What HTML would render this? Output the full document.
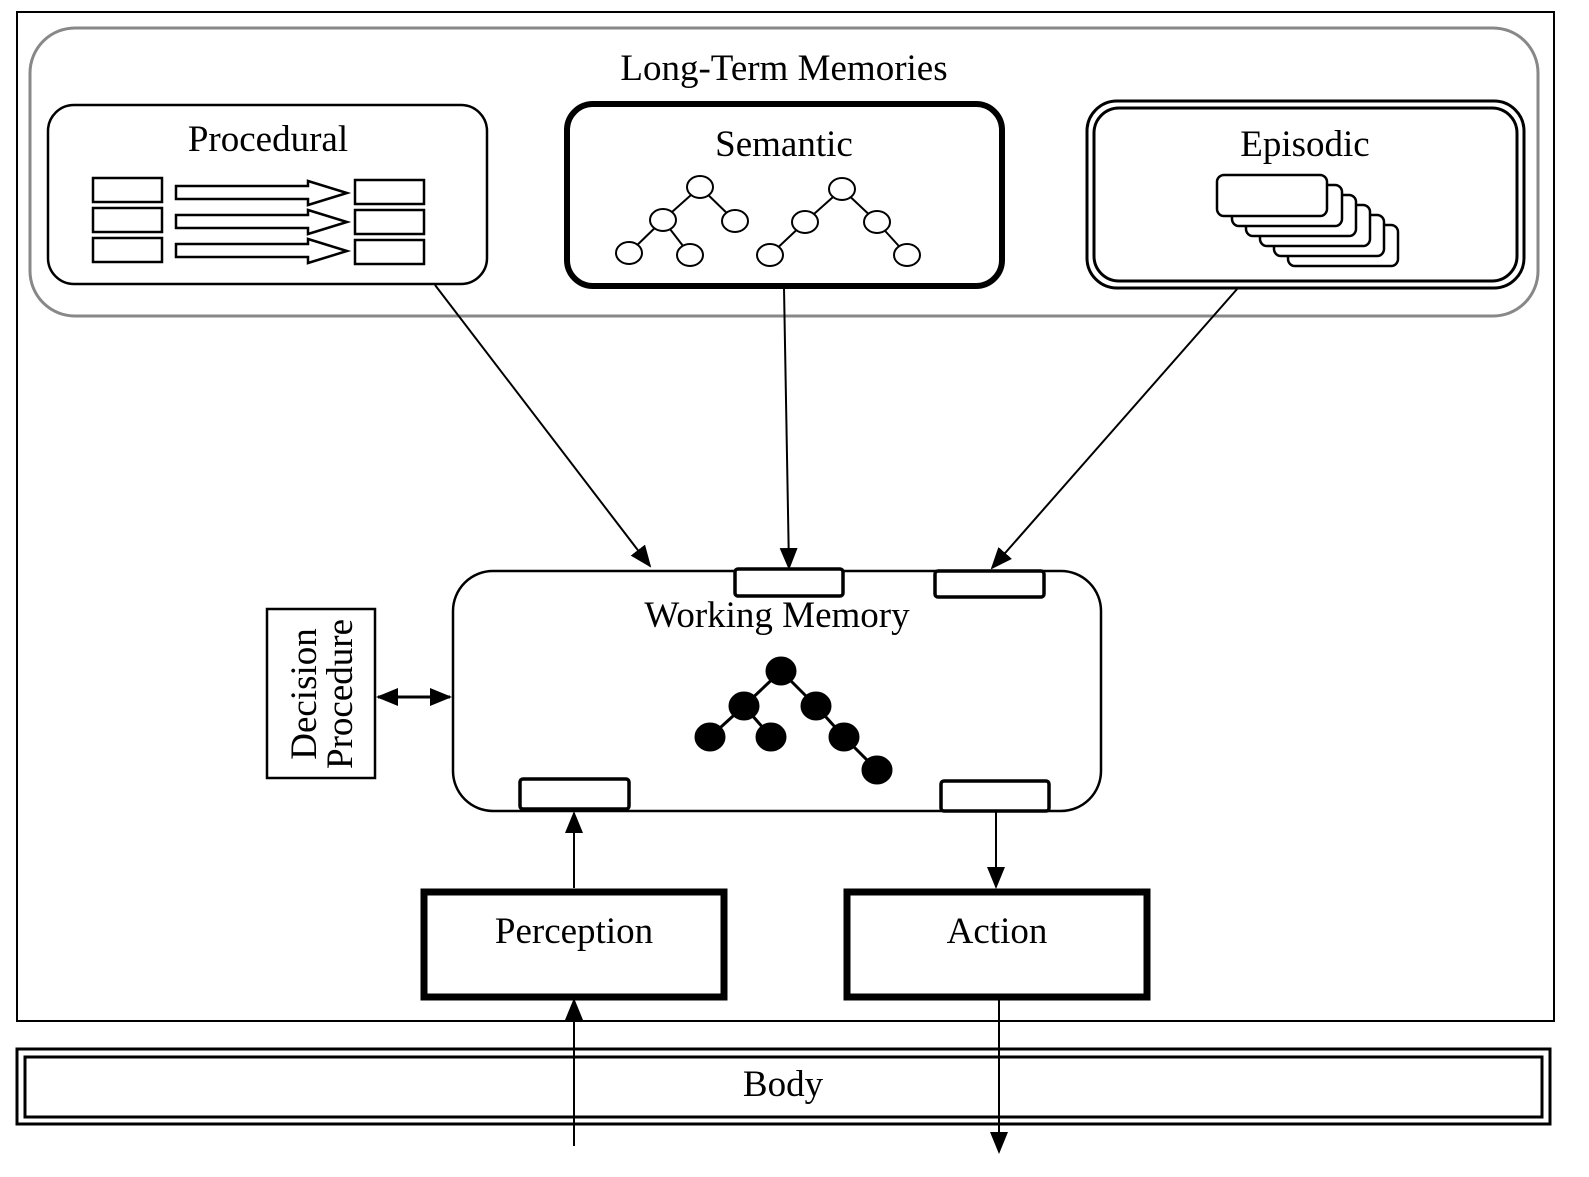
<!DOCTYPE html>
<html><head><style>html,body{margin:0;padding:0;background:#fff}svg{display:block}</style></head>
<body>
<svg width="1589" height="1177" viewBox="0 0 1589 1177" xmlns="http://www.w3.org/2000/svg" font-family="Liberation Serif, serif">
<defs>
<marker id="ab" markerWidth="22" markerHeight="22" refX="20" refY="11" orient="auto-start-reverse" markerUnits="userSpaceOnUse" viewBox="0 0 22 22">
<path d="M0,2 L22,11 L0,20 z" fill="#000"/></marker>
</defs>
<rect x="17" y="12" width="1537" height="1009" fill="none" stroke="#000" stroke-width="2"/>
<rect x="30" y="28" width="1508" height="288" rx="45" fill="none" stroke="#888" stroke-width="3"/>
<text x="784" y="80" font-size="37" text-anchor="middle">Long-Term Memories</text>

<!-- Procedural -->
<rect x="48" y="105" width="439" height="179" rx="26" fill="none" stroke="#000" stroke-width="2.5"/>
<text x="268" y="151" font-size="37" text-anchor="middle">Procedural</text>
<g fill="#fff" stroke="#000" stroke-width="2.5">
<rect x="93" y="178" width="69" height="24"/><rect x="93" y="208" width="69" height="24"/><rect x="93" y="238" width="69" height="24"/>
<rect x="355" y="180" width="69" height="24"/><rect x="355" y="210" width="69" height="24"/><rect x="355" y="240" width="69" height="24"/>
<path d="M176,186 H308 V181 L347,193 L308,205 V199 H176 Z"/>
<path d="M176,215 H308 V210 L347,222 L308,234 V228 H176 Z"/>
<path d="M176,244 H308 V239 L347,251 L308,263 V257 H176 Z"/>
</g>

<!-- Semantic -->
<rect x="567" y="104" width="435" height="182" rx="26" fill="none" stroke="#000" stroke-width="6"/>
<text x="784" y="156" font-size="37" text-anchor="middle">Semantic</text>
<g stroke="#000" stroke-width="2" fill="#fff">
<line x1="700" y1="187" x2="663" y2="220"/><line x1="700" y1="187" x2="735" y2="221"/><line x1="663" y1="220" x2="629" y2="253"/><line x1="663" y1="220" x2="690" y2="255"/>
<line x1="842" y1="189" x2="805" y2="222"/><line x1="842" y1="189" x2="877" y2="222"/><line x1="805" y1="222" x2="770" y2="255"/><line x1="877" y1="222" x2="907" y2="255"/>
<ellipse cx="700" cy="187" rx="13" ry="11"/><ellipse cx="663" cy="220" rx="13" ry="11"/><ellipse cx="735" cy="221" rx="13" ry="11"/><ellipse cx="629" cy="253" rx="13" ry="11"/><ellipse cx="690" cy="255" rx="13" ry="11"/>
<ellipse cx="842" cy="189" rx="13" ry="11"/><ellipse cx="805" cy="222" rx="13" ry="11"/><ellipse cx="877" cy="222" rx="13" ry="11"/><ellipse cx="770" cy="255" rx="13" ry="11"/><ellipse cx="907" cy="255" rx="13" ry="11"/>
</g>

<!-- Episodic -->
<rect x="1087" y="101" width="437" height="187" rx="30" fill="none" stroke="#000" stroke-width="3"/>
<rect x="1094" y="108" width="423" height="173" rx="25" fill="none" stroke="#000" stroke-width="3"/>
<text x="1305" y="156" font-size="37" text-anchor="middle">Episodic</text>
<g fill="#fff" stroke="#000" stroke-width="2.5">
<rect x="1288" y="225" width="110" height="41" rx="7"/>
<rect x="1274" y="215" width="110" height="41" rx="7"/>
<rect x="1260" y="205" width="110" height="41" rx="7"/>
<rect x="1246" y="195" width="110" height="41" rx="7"/>
<rect x="1232" y="185" width="110" height="41" rx="7"/>
<rect x="1217" y="175" width="110" height="41" rx="7"/>
</g>

<!-- arrows -->
<g stroke="#000" stroke-width="2" fill="none">
<line x1="435" y1="285" x2="650" y2="566" marker-end="url(#ab)"/>
<line x1="784" y1="288" x2="789" y2="568" marker-end="url(#ab)"/>
<line x1="1238" y1="288" x2="992" y2="568" marker-end="url(#ab)"/>
<line x1="574" y1="888" x2="574" y2="813" marker-end="url(#ab)"/>
<line x1="996" y1="812" x2="996" y2="887" marker-end="url(#ab)"/>
<line x1="574" y1="1146" x2="574" y2="1000" marker-end="url(#ab)"/>
<line x1="999" y1="1000" x2="999" y2="1152" marker-end="url(#ab)"/>
<line x1="378" y1="697" x2="450" y2="697" marker-start="url(#ab)" marker-end="url(#ab)" stroke-width="3"/>
</g>

<!-- Working memory -->
<rect x="453" y="571" width="648" height="240" rx="40" fill="none" stroke="#000" stroke-width="2.5"/>
<g fill="#fff" stroke="#000" stroke-width="3.5">
<rect x="735" y="569" width="108" height="27" rx="3"/>
<rect x="935" y="571" width="109" height="26" rx="3"/>
<rect x="520" y="779" width="109" height="30" rx="3"/>
<rect x="941" y="781" width="108" height="30" rx="3"/>
</g>
<text x="777" y="627" font-size="37" text-anchor="middle">Working Memory</text>
<g stroke="#000" stroke-width="3" fill="#000">
<line x1="781" y1="671" x2="744" y2="706"/><line x1="781" y1="671" x2="816" y2="706"/><line x1="744" y1="706" x2="710" y2="737"/><line x1="744" y1="706" x2="771" y2="737"/><line x1="816" y1="706" x2="844" y2="737"/><line x1="844" y1="737" x2="877" y2="770"/>
<ellipse cx="781" cy="671" rx="14" ry="13"/><ellipse cx="744" cy="706" rx="14" ry="13"/><ellipse cx="816" cy="706" rx="14" ry="13"/><ellipse cx="710" cy="737" rx="14" ry="13"/><ellipse cx="771" cy="737" rx="14" ry="13"/><ellipse cx="844" cy="737" rx="14" ry="13"/><ellipse cx="877" cy="770" rx="14" ry="13"/>
</g>

<!-- Decision -->
<rect x="267" y="609" width="108" height="169" fill="none" stroke="#000" stroke-width="2.5"/>
<g transform="translate(321,694) rotate(-90)" font-size="37" text-anchor="middle">
<text x="0" y="-5">Decision</text>
<text x="0" y="31">Procedure</text>
</g>

<!-- Perception / Action -->
<rect x="424" y="892" width="300" height="105" fill="none" stroke="#000" stroke-width="7"/>
<text x="574" y="943" font-size="37" text-anchor="middle">Perception</text>
<rect x="847" y="892" width="300" height="105" fill="none" stroke="#000" stroke-width="7"/>
<text x="997" y="943" font-size="37" text-anchor="middle">Action</text>

<!-- Body -->
<rect x="17" y="1049" width="1533" height="75" fill="none" stroke="#000" stroke-width="3"/>
<rect x="25" y="1057" width="1517" height="60" fill="none" stroke="#000" stroke-width="3"/>
<text x="783" y="1096" font-size="37" text-anchor="middle">Body</text>
<line x1="574" y1="1050" x2="574" y2="1123" stroke="#000" stroke-width="2"/>
<line x1="999" y1="1050" x2="999" y2="1123" stroke="#000" stroke-width="2"/>
</svg>
</body></html>
